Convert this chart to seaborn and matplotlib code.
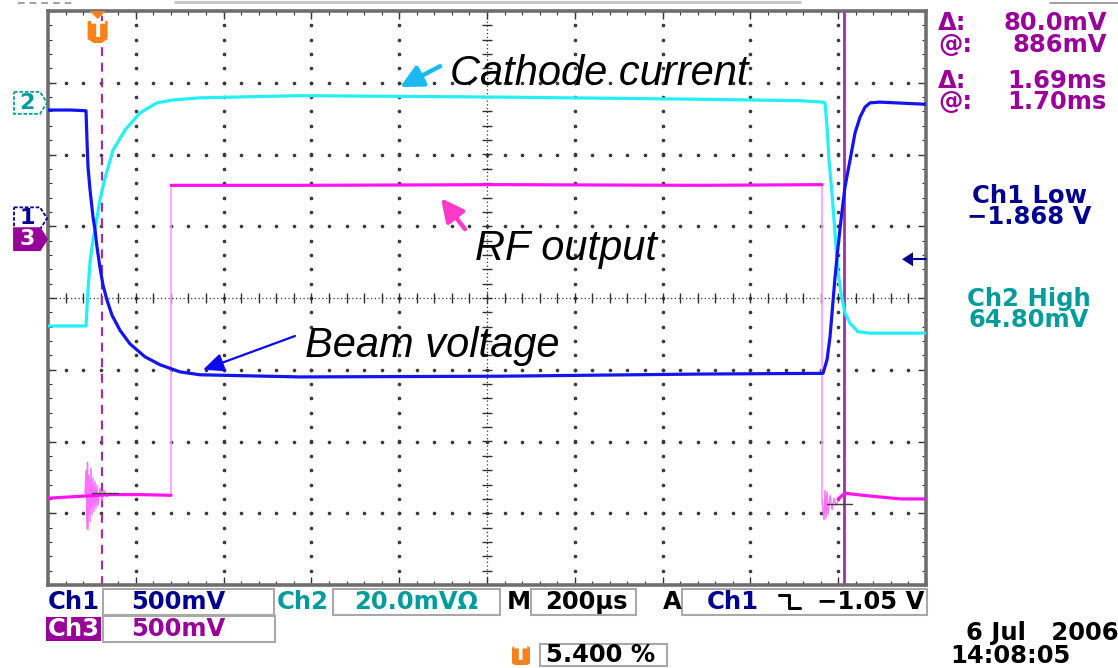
import numpy as np
import pandas as pd
import matplotlib
matplotlib.use("Agg")
import matplotlib.pyplot as plt
from matplotlib.patches import Polygon, Rectangle, FancyBboxPatch
from matplotlib.lines import Line2D
import seaborn as sns

# ---------------------------------------------------------------- data
# Horizontal: time in microseconds (200 us/div, 10 div), vertical: screen divisions (8 div)
T_LEFT = -113.0
US_PER_DIV = 200.0

# Ch1 - beam voltage
beam_t = [-113.0, -62.9, -26.4, -24.2, -21.9, -17.3, -10.5, -5.9, -1.4, 5.5, 12.3, 21.4,
          32.8, 51.0, 73.8, 108.0, 142.1, 187.7, 233.2, 461.0, 916.6, 1372.2, 1652.4,
          1661.6, 1668.4, 1679.8, 1686.6, 1693.4, 1702.5, 1713.9, 1725.3, 1736.7,
          1748.1, 1759.5, 1782.3, 1887.0]
beam_v = [2.62, 2.62, 2.61, 2.20, 1.83, 1.51, 1.13, 0.95, 0.71, 0.42, 0.18, -0.03,
          -0.24, -0.45, -0.64, -0.82, -0.93, -1.03, -1.07, -1.10, -1.09, -1.06, -1.05,
          -0.86, -0.54, 0.29, 0.71, 1.09, 1.55, 1.92, 2.30, 2.52,
          2.66, 2.72, 2.73, 2.70]

# Ch2 - cathode current
cath_t = [-113.0, -26.4, -21.9, -17.3, -10.5, -5.9, 5.5, 16.8, 35.1, 62.4, 96.6, 135.3,
          171.7, 233.2, 461.0, 916.6, 1372.2, 1600.0, 1652.4, 1657.0, 1661.6, 1666.1,
          1672.9, 1677.5, 1682.0, 1686.6, 1693.4, 1702.5, 1713.9, 1732.1, 1759.5, 1887.0]
cath_v = [-0.39, -0.39, 0.11, 0.50, 0.81, 0.95, 1.37, 1.67, 2.06, 2.34, 2.58, 2.72,
          2.76, 2.79, 2.82, 2.80, 2.77, 2.75, 2.73, 2.72, 2.38, 1.92,
          1.46, 1.09, 0.71, 0.35, 0.07, -0.21, -0.35, -0.47, -0.49, -0.49]

# Ch3 - RF output (baseline, pulse top, baseline after pulse)
rf_low1_t = [-113.0, -28.7, 28.2, 96.6, 167.2]
rf_low1_v = [-2.79, -2.76, -2.74, -2.74, -2.75]
rf_top_t = [167.2, 461.0, 916.6, 1372.2, 1650.2]
rf_top_v = [1.57, 1.57, 1.58, 1.57, 1.58]
rf_low2_t = [1687.0, 1702.6, 1714.0, 1759.5, 1827.8, 1887.0]
rf_low2_v = [-2.80, -2.72, -2.73, -2.76, -2.80, -2.80]

# ringing on the RF baseline at the switching instants
burst1_t = [-28.7, -26.4, -24.2, -23.0, -21.9, -19.6, -17.3, -15.0, -12.8, -10.5, -8.2,
            -5.9, -3.7, -1.4, 0.9, 5.5, 10.0, 14.6, 21.4, 28.2]
burst1_v = [-2.73, -2.40, -3.21, -2.29, -3.23, -2.47, -3.12, -2.37, -3.02, -2.51, -2.98,
            -2.56, -2.93, -2.61, -2.89, -2.65, -2.82, -2.68, -2.77, -2.72]
burst2_t = [1650.2, 1654.7, 1657.0, 1659.3, 1661.6, 1663.8, 1668.4, 1673.0, 1677.5,
            1682.0, 1691.2, 1702.6]
burst2_v = [-2.82, -3.09, -2.68, -3.07, -2.70, -3.02, -2.75, -2.95, -2.79, -2.89,
            -2.77, -2.72]

# cursor readout crossings
xhair1_t = [-12.8, 46.5]
xhair1_v = [-2.72, -2.72]
xhair2_t = [1661.6, 1718.5]
xhair2_v = [-2.87, -2.87]

# time cursors (us) and trigger
cursor2_t = 1700.0
cursor_dt = 1690.0
trigger_t = 0.0

# channel ground markers and trigger level (divisions)
ch2_ref, ch1_ref, ch3_ref = 2.72, 1.11, 0.82
trig_level = 0.54

# annotation arrows: (tail_t, tail_v, tip_t, tip_v)
arrow_cath = (780.0, 3.23, 688.8, 2.94)
arrow_rf = (836.9, 0.96, 782.2, 1.39)
arrow_beam = (449.6, -0.53, 240.1, -1.00)

# readouts
volt_cursor = [("Δ:", "80.0mV"), ("@:", "886mV")]
time_cursor = [("Δ:", "1.69ms"), ("@:", "1.70ms")]
ch1_meas = ["Ch1 Low", "−1.868 V"]
ch2_meas = ["Ch2 High", "64.80mV"]

# ---------------------------------------------------------------- style
W, H = 1118, 668
sns.set_style("white")
plt.rcParams["font.family"] = ["DejaVu Sans"]

C_BEAM = "#1414EE"
C_CATH = "#22F0F6"
C_RF = "#FF14F0"
C_RF_EDGE = "#FF9CFF"
C_PURPLE = "#990099"
C_NAVY = "#000090"
C_TEAL = "#009C9C"
C_ORANGE = "#F7821B"
C_BOX = "#A8A8A8"
C_CURSOR = "#A030A0"

fig = plt.figure(figsize=(W / 100, H / 100), dpi=100, facecolor="white")
ax = fig.add_axes([48 / W, 1 - 585 / H, 878 / W, 574 / H])
ax.set_facecolor("white")

x0, x1 = T_LEFT, T_LEFT + 10 * US_PER_DIV
ax.set_xlim(x0, x1)
ax.set_ylim(-4, 4)


def fx(px):
    return px / W


def fy(py):
    return 1 - py / H


# ---------------------------------------------------------------- graticule
major_t = T_LEFT + US_PER_DIV * np.arange(0, 11)
minor_t = T_LEFT + US_PER_DIV / 5 * np.arange(0, 51)
minor_v = np.arange(-4, 4.001, 0.2)
dot_kw = dict(ls="none", marker="o", ms=1.6, color="#3a3a3a", zorder=1)
for k in range(1, 10):
    if k == 5:
        continue
    ax.plot(np.full(minor_v.size, major_t[k]), minor_v, **dot_kw)
for j in range(-3, 4):
    if j == 0:
        continue
    ax.plot(minor_t, np.full(minor_t.size, j), **dot_kw)
center_t = major_t[5]
ax.axvline(center_t, ls=(0, (1, 2)), lw=0.9, color="#303030", zorder=1)
ax.axhline(0, ls=(0, (1, 2)), lw=0.9, color="#303030", zorder=1)
ax.plot(np.full(minor_v.size, center_t), minor_v, ls="none", marker="_", ms=7,
        mew=1.0, color="#303030", zorder=1)
ax.plot(minor_t, np.zeros(minor_t.size), ls="none", marker="|", ms=7,
        mew=1.0, color="#303030", zorder=1)

ax.set_xticks(major_t)
ax.set_xticks(minor_t, minor=True)
ax.set_yticks(np.arange(-4, 5))
ax.set_yticks(minor_v, minor=True)
ax.tick_params(which="both", direction="in", top=True, right=True, bottom=True,
               left=True, labelbottom=False, labelleft=False, color="#333333")
ax.tick_params(which="major", length=6, width=1.0)
ax.tick_params(which="minor", length=3, width=0.8)
for s in ax.spines.values():
    s.set_color("#6e6e6e")
    s.set_linewidth(2.6)

# ---------------------------------------------------------------- cursors
ax.axvline(cursor2_t - cursor_dt, color=C_CURSOR, lw=1.6, ls=(0, (4, 3)), zorder=2)
ax.axvline(cursor2_t, color=C_CURSOR, lw=2.0, zorder=2)

# ---------------------------------------------------------------- traces
def trace(t, v, color, lw, z):
    df = pd.DataFrame({"time_us": t, "level": v})
    sns.lineplot(data=df, x="time_us", y="level", color=color, lw=lw,
                 estimator=None, sort=False, ax=ax, zorder=z)


# pulse edges of the RF trace (fast, faint on screen)
trace([rf_low1_t[-1], rf_top_t[0]], [rf_low1_v[-1], rf_top_v[0]], C_RF_EDGE, 1.2, 3)
trace([rf_top_t[-1], rf_top_t[-1]], [rf_top_v[-1], burst2_v[0]], C_RF_EDGE, 1.2, 3)
trace(burst1_t, burst1_v, "#FF70FF", 1.0, 3)
trace(burst2_t, burst2_v, "#FF70FF", 1.0, 3)
trace(rf_low1_t, rf_low1_v, C_RF, 2.3, 4)
trace(rf_top_t, rf_top_v, C_RF, 2.3, 4)
trace(rf_low2_t, rf_low2_v, C_RF, 2.3, 4)
trace(cath_t, cath_v, C_CATH, 2.3, 5)
trace(beam_t, beam_v, C_BEAM, 2.3, 6)
trace(xhair1_t, xhair1_v, "#404040", 1.0, 7)
trace(xhair2_t, xhair2_v, "#404040", 1.0, 7)
ax.set_xlabel("")
ax.set_ylabel("")
ax.set_xlim(x0, x1)
ax.set_ylim(-4, 4)

# ---------------------------------------------------------------- annotations
ann_font = dict(family=["Liberation Sans", "DejaVu Sans"], style="italic", size=30,
                color="black")
fig.text(fx(450), fy(85), "Cathode current", va="baseline", ha="left", **ann_font)
fig.text(fx(475), fy(260), "RF output", va="baseline", ha="left", **ann_font)
fig.text(fx(305), fy(357), "Beam voltage", va="baseline", ha="left", **ann_font)


def arrow(spec, color, lw, hl, hw, ms):
    tt, tv, ht, hv = spec
    ax.annotate("", xy=(ht, hv), xytext=(tt, tv),
                arrowprops=dict(arrowstyle=f"-|>,head_length={hl},head_width={hw}",
                                color=color, lw=lw, shrinkA=0, shrinkB=0,
                                mutation_scale=ms), zorder=8)


arrow(arrow_cath, "#1CB8F2", 3.2, 0.9, 0.45, 15)
arrow(arrow_rf, "#FF3ACB", 3.2, 0.9, 0.45, 15)
arrow(arrow_beam, "#0A0AF0", 1.6, 0.9, 0.4, 14)

# ---------------------------------------------------------------- screen markers
fig.canvas.draw()
figw, figh = fig.bbox.width, fig.bbox.height


def level_fy(level):
    return ax.transData.transform((0, level))[1] / figh


def time_fx(t):
    return ax.transData.transform((t, 0))[0] / figw


def channel_tag(level, label, edge, face, txt, ls):
    yc = level_fy(level)
    hh = 11 / H
    xs = [fx(14), fx(40), fx(47), fx(40), fx(14)]
    ys = [yc + hh, yc + hh, yc, yc - hh, yc - hh]
    fig.add_artist(Polygon(list(zip(xs, ys)), closed=True, transform=fig.transFigure,
                           facecolor=face, edgecolor=edge, lw=1.3, ls=ls))
    fig.text(fx(27), yc, label, ha="center", va="center", color=txt, fontsize=16,
             fontweight="bold")


channel_tag(ch2_ref, "2", C_TEAL, "white", C_TEAL, (0, (2, 1)))
channel_tag(ch1_ref, "1", C_NAVY, "white", C_NAVY, (0, (2, 1)))
channel_tag(ch3_ref, "3", C_PURPLE, C_PURPLE, "white", "-")

# trigger position marker
tx = time_fx(trigger_t)
fig.add_artist(Polygon([(tx - 8 / W, fy(11)), (tx + 8 / W, fy(11)), (tx, fy(19))],
                       closed=True, transform=fig.transFigure, facecolor=C_ORANGE,
                       edgecolor="none"))
fig.add_artist(Polygon([(tx - 10 / W, fy(21)), (tx + 10 / W, fy(21)), (tx + 10 / W, fy(39)),
                        (tx + 4 / W, fy(43)), (tx - 4 / W, fy(43)), (tx - 10 / W, fy(39))],
                       closed=True, transform=fig.transFigure, facecolor=C_ORANGE,
                       edgecolor="none"))
fig.text(tx, fy(31), "T", ha="center", va="center", color="white", fontsize=15,
         fontweight="bold")

# trigger level arrow on the right edge
ty = level_fy(trig_level)
fig.add_artist(Polygon([(fx(902), ty), (fx(913), ty + 7 / H), (fx(913), ty - 7 / H)],
                       closed=True, transform=fig.transFigure, facecolor=C_NAVY,
                       edgecolor="none"))
fig.add_artist(Line2D([fx(912), fx(926)], [ty, ty], transform=fig.transFigure,
                      color=C_NAVY, lw=1.5))

# top strip
fig.add_artist(Line2D([fx(175), fx(800)], [fy(2), fy(2)], transform=fig.transFigure,
                      color="#c4c4c4", lw=2))
fig.add_artist(Line2D([fx(18), fx(72)], [fy(3), fy(3)], transform=fig.transFigure,
                      color="#909090", lw=1.2, ls=(0, (4, 3))))
fig.add_artist(Line2D([fx(1050), fx(1118)], [fy(3), fy(3)], transform=fig.transFigure,
                      color="#909090", lw=1.2))

# ---------------------------------------------------------------- readouts
rd = dict(fontsize=17.5, fontweight="bold")
LS = 0.86  # tight line pitch of the scope readout


def pair_block(pairs, py_center, color):
    fig.text(fx(938), fy(py_center), "\n".join(p[0] for p in pairs), ha="left",
             va="center", color=color, linespacing=LS, multialignment="left", **rd)
    fig.text(fx(1107), fy(py_center), "\n".join(p[1] for p in pairs), ha="right",
             va="center", color=color, linespacing=LS, multialignment="right", **rd)


pair_block(volt_cursor, 34, C_PURPLE)
pair_block(time_cursor, 91.5, C_PURPLE)
fig.text(fx(1029), fy(206.5), "\n".join(ch1_meas), ha="center", va="center",
         color=C_NAVY, linespacing=LS, multialignment="center", **rd)
fig.text(fx(1029), fy(309.5), "\n".join(ch2_meas), ha="center", va="center",
         color=C_TEAL, linespacing=LS, multialignment="center", **rd)


def box(x_a, x_b, y_a, y_b):
    fig.add_artist(Rectangle((fx(x_a), fy(y_b)), (x_b - x_a) / W, (y_b - y_a) / H,
                             transform=fig.transFigure, facecolor="none",
                             edgecolor=C_BOX, lw=1.5))


# row 1
r1 = 602
fig.text(fx(48), fy(r1), "Ch1", ha="left", va="center", color=C_NAVY, **rd)
box(103, 274, 589, 615)
fig.text(fx(178), fy(r1), "500mV", ha="center", va="center", color=C_NAVY, **rd)
fig.text(fx(277), fy(r1), "Ch2", ha="left", va="center", color=C_TEAL, **rd)
box(333, 500, 589, 615)
fig.text(fx(416), fy(r1), "20.0mVΩ", ha="center", va="center", color=C_TEAL, **rd)
fig.text(fx(507), fy(r1), "M", ha="left", va="center", color="black", **rd)
box(531, 636, 589, 615)
fig.text(fx(586), fy(r1), "200µs", ha="center", va="center", color="black", **rd)
fig.text(fx(663), fy(r1), "A", ha="left", va="center", color="black", **rd)
box(682, 927, 589, 615)
fig.text(fx(707), fy(r1), "Ch1", ha="left", va="center", color=C_NAVY, **rd)
fig.add_artist(Line2D([fx(779), fx(789), fx(789), fx(800)],
                      [fy(595), fy(595), fy(608), fy(608)],
                      transform=fig.transFigure, color="black", lw=2.2))
fig.text(fx(924), fy(r1), "−1.05 V", ha="right", va="center", color="black", **rd)

# row 2
r2 = 629
fig.add_artist(Rectangle((fx(46), fy(641)), 55 / W, 24 / H, transform=fig.transFigure,
                         facecolor=C_PURPLE, edgecolor="none"))
fig.text(fx(48), fy(r2), "Ch3", ha="left", va="center", color="white", **rd)
box(103, 275, 616, 642)
fig.text(fx(178), fy(r2), "500mV", ha="center", va="center", color=C_PURPLE, **rd)

# row 3
r3 = 655
fig.add_artist(FancyBboxPatch((fx(512), fy(665)), 18 / W, 19 / H,
                              boxstyle="round,pad=0,rounding_size=0.004",
                              transform=fig.transFigure, facecolor=C_ORANGE,
                              edgecolor="none"))
fig.text(fx(521), fy(r3), "T", ha="center", va="center", color="white", fontsize=14,
         fontweight="bold")
box(540, 667, 644, 666)
fig.text(fx(546), fy(r3), "5.400 %", ha="left", va="center", color="black", **rd)
fig.text(fx(966), fy(633), "6 Jul   2006", ha="left", va="center", color="black", **rd)
fig.text(fx(950), fy(656), "14:08:05", ha="left", va="center", color="black", **rd)

fig.savefig("out.png", dpi=100, facecolor="white")
